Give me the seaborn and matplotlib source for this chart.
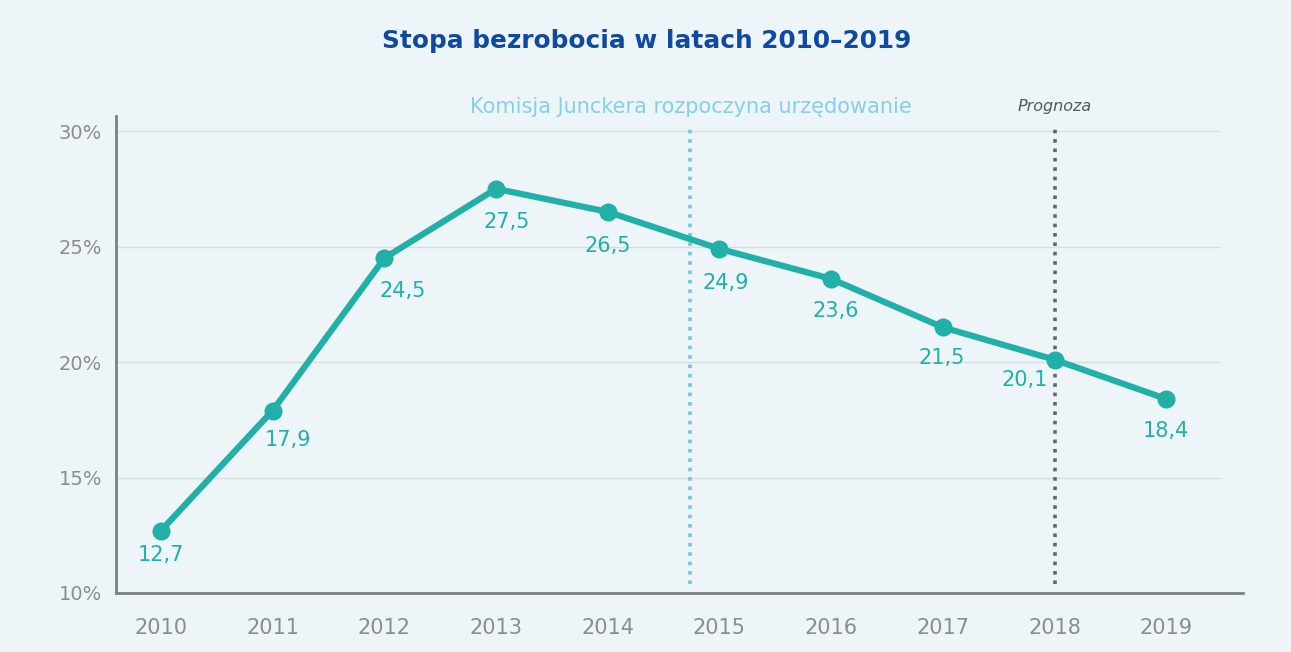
import matplotlib
matplotlib.use("Agg")
import matplotlib.pyplot as plt
import seaborn as sns
import pandas as pd

# Unemployment rate (%) by year
years = [2010, 2011, 2012, 2013, 2014, 2015, 2016, 2017, 2018, 2019]
rates = [12.7, 17.9, 24.5, 27.5, 26.5, 24.9, 23.6, 21.5, 20.1, 18.4]
value_labels = ["12,7", "17,9", "24,5", "27,5", "26,5", "24,9", "23,6", "21,5", "20,1", "18,4"]
y_ticks = [10, 15, 20, 25, 30]
y_tick_labels = ["10%", "15%", "20%", "25%", "30%"]
title = "Stopa bezrobocia w latach 2010\u20132019"
juncker_label = "Komisja Junckera rozpoczyna urz\u0119dowanie"
juncker_start = 2014.74
forecast_label = "Prognoza"
forecast_start = 2018

# label offsets in pixels (dx, dy) and horizontal alignment
label_offsets = [(0, -24), (15, -29), (18, -33), (11, -33), (0, -34),
                 (6, -34), (5, -32), (-1, -31), (-7, -20), (0, -32)]
label_ha = ["center"] * 8 + ["right", "center"]

BG = "#EDF5F9"
TEAL = "#20B0A8"
GREY_TXT = "#8C8C8E"

sns.set_theme(style="white")
plt.rcParams["font.family"] = ["DejaVu Sans"]

fig = plt.figure(figsize=(12.91, 6.52), dpi=100, facecolor=BG)
ax = fig.add_axes([116 / 1291, 1 - 593 / 652, 1127 / 1291, (593 - 116) / 652])
ax.set_facecolor(BG)

x_lo, x_hi = 2009.597, 2019.687
y_lo, y_hi = 10, 30.65
ax.set_xlim(x_lo, x_hi)
ax.set_ylim(y_lo, y_hi)

# horizontal gridlines (stop short of the right end)
grid_end = 2019.48
ax.hlines([t for t in y_ticks if t > y_lo], x_lo, grid_end, color="#D9DDE0", lw=1.0, zorder=1)

# reference lines
ax.vlines(juncker_start, 10.4, 30.15, color="#6CC8E0", lw=2.6, linestyles=(0, (1, 1.6)), zorder=2)
ax.vlines(forecast_start, 10.4, 30.3, color="#64666B", lw=2.6, linestyles=(0, (1, 1.6)), zorder=2)

df = pd.DataFrame({"year": years, "rate": rates})
sns.lineplot(data=df, x="year", y="rate", ax=ax, color=TEAL, lw=4.5,
             marker="o", markersize=13, markeredgewidth=0, zorder=3)

for x, y, lab, (dx, dy), ha in zip(years, rates, value_labels, label_offsets, label_ha):
    ax.annotate(lab, (x, y), xytext=(dx, dy), textcoords="offset pixels",
                ha=ha, va="center", fontsize=15, color=TEAL, zorder=4)

ax.text(juncker_start, 30.62, juncker_label, ha="center", va="bottom",
        fontsize=15, color="#86D0E6", clip_on=False)
ax.text(forecast_start, 30.75, forecast_label, ha="center", va="bottom",
        fontsize=11.5, color="#55575C", style="italic", clip_on=False)

ax.set_xticks(years)
ax.set_xticklabels([str(y) for y in years])
ax.set_yticks(y_ticks)
ax.set_yticklabels(y_tick_labels)
ax.tick_params(axis="x", length=0, pad=18, labelsize=15, labelcolor=GREY_TXT)
ax.tick_params(axis="y", length=6, width=1, color="#C8CCD0", pad=4, labelsize=14, labelcolor=GREY_TXT)
ax.set_xlabel("")
ax.set_ylabel("")

for side in ["top", "right"]:
    ax.spines[side].set_visible(False)
for side in ["left", "bottom"]:
    ax.spines[side].set_color("#7D7F84")
    ax.spines[side].set_linewidth(2)

fig.text(647 / 1291, 1 - 41 / 652, title, ha="center", va="center",
         fontsize=17.8, fontweight="bold", color="#0E4BA0")

fig.savefig("out.png", dpi=100, facecolor=BG)
